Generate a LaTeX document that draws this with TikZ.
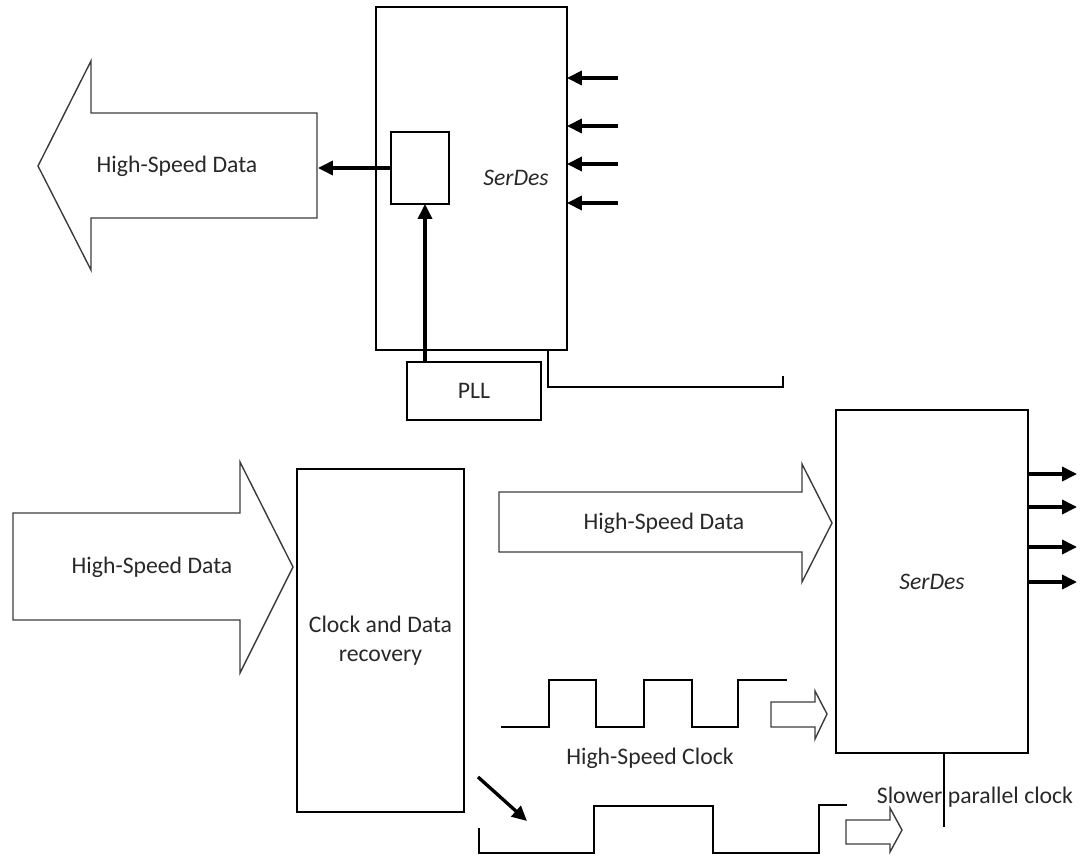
\documentclass[tikz,border=0pt]{standalone}
\usepackage{fontspec}
\setmainfont{Carlito}
\usepackage{tikz}
\usetikzlibrary{arrows.meta, positioning}
\definecolor{txtgray}{RGB}{40, 40, 40}
\definecolor{outlinegray}{RGB}{60, 60, 60}

\begin{document}
\begin{tikzpicture}[
	x=0.02cm, y=-0.02cm,
	font=\fontsize{13.5}{16.5}\selectfont,
	box/.style={draw, line width=1.6pt, outer sep=0pt, inner sep=0pt,
		align=center, text=txtgray, anchor=north west},
	fatarrow/.style={draw=outlinegray, line width=0.8pt},
	lbl/.style={text=txtgray, align=center},
	arr/.style={-{Triangle[length=8.5pt, width=8pt]}, line width=1.9pt},
	wire/.style={line width=1.6pt},
	wave/.style={line width=1.4pt}
	]
	\useasboundingbox (0,0) rectangle (1083,856);

	% transmit side
	\node[box, minimum width=3.82cm, minimum height=6.86cm] (txBox) at (376,7) {};
	\node[lbl, font=\fontsize{13.5}{16.5}\selectfont\itshape] (txLabel) at (516,178) {SerDes};
	\node[box, minimum width=1.16cm, minimum height=1.44cm] (ser) at (391,132) {};
	\node[box, minimum width=2.68cm, minimum height=1.16cm] (pll) at (407,362) {PLL};

	\draw[fatarrow] (317,113) -- (91,113) -- (91,61) -- (38,166) -- (91,270)
		-- (91,218) -- (317,218) -- cycle;
	\node[lbl] (hsdTx) at (177,166) {High-Speed Data};
	\coordinate (txOut) at (318,166);

	\draw[arr] (ser.west) -- (ser.west -| txOut);
	\draw[arr] (pll.north -| 425,0) -- (ser.south -| 425,0);
	\foreach \y in {78,126,164,203}
		\draw[arr] (618,\y) -- (txBox.east |- 0,\y);
	\draw[wire] (txBox.south -| 548,0) |- (783,387) -- (783,376);

	% receive side
	\draw[fatarrow] (13,513) -- (240,513) -- (240,462) -- (293,567) -- (240,673)
		-- (240,620) -- (13,620) -- cycle;
	\node[lbl] (hsdIn) at (152,567) {High-Speed Data};

	\node[box, minimum width=3.34cm, minimum height=6.86cm] (cdr) at (297,469)
		{Clock and Data\\recovery};

	\draw[fatarrow] (499,492) -- (802,492) -- (802,464) -- (832,523) -- (802,582)
		-- (802,552) -- (499,552) -- cycle;
	\node[lbl] (hsdMid) at (664,523) {High-Speed Data};

	\node[box, minimum width=3.84cm, minimum height=6.86cm,
		font=\fontsize{13.5}{16.5}\selectfont\itshape] (rxBox) at (836,410) {SerDes};
	\foreach \y in {474,507,547,582}
		\draw[arr] (rxBox.east |- 0,\y) -- (1077,\y);

	% clocks
	\draw[wave] (501,727) -- (549,727) -- (549,680) -- (596,680) -- (596,727)
		-- (644,727) -- (644,680) -- (692,680) -- (692,727) -- (738,727)
		-- (738,680) -- (787,680);
	\draw[fatarrow] (771,702) -- (815,702) -- (815,691) -- (827,714) -- (815,739)
		-- (815,727) -- (771,727) -- cycle;
	\node[lbl] (hsClk) at (650,758) {High-Speed Clock};

	\coordinate (divFrom) at (478,777);
	\coordinate (divTo) at (527,821);
	\draw[arr] (divFrom) -- (divTo);

	\draw[wave] (479,828) -- (479,853) -- (594,853) -- (594,806) -- (713,806)
		-- (713,853) -- (819,853) -- (819,805) -- (847,805);
	\draw[fatarrow] (846,820) -- (890,820) -- (890,808) -- (902,830) -- (890,852)
		-- (890,844) -- (846,844) -- cycle;

	\node[lbl] (slowClk) at (975,797) {Slower parallel clock};
	\draw[wire] (rxBox.south -| 944,0) -- (944,827);
\end{tikzpicture}
\end{document}
